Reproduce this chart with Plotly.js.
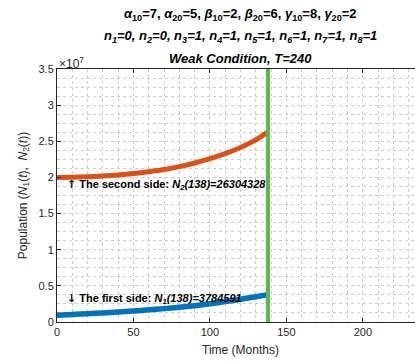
<!DOCTYPE html>
<html>
<head>
<meta charset="utf-8">
<script src="https://cdn.plot.ly/plotly-3.0.1.min.js"></script>
<style>
html,body{margin:0;padding:0;overflow:hidden;background:#fff;width:415px;height:362px;}
#chart{width:440px;height:362px;}
</style>
</head>
<body>
<div id="chart"></div>
<script>
// Data (Time in months, populations)
const months = [0, 10, 20, 30, 40, 50, 60, 70, 80, 90, 100, 110, 120, 130, 138];
const N1 = [0.95e6, 1.05e6, 1.15e6, 1.26e6, 1.38e6, 1.52e6, 1.68e6, 1.85e6, 2.04e6, 2.26e6, 2.52e6, 2.82e6, 3.15e6, 3.50e6, 3784591];
const N2 = [20.00e6, 20.04e6, 20.10e6, 20.20e6, 20.35e6, 20.55e6, 20.80e6, 21.10e6, 21.50e6, 22.00e6, 22.60e6, 23.30e6, 24.15e6, 25.20e6, 26304328];
const cutT = [138, 138];
const cutY = [0, 3.5e7];
const yTickVals = [0, 0.5e7, 1e7, 1.5e7, 2e7, 2.5e7, 3e7, 3.5e7];
const yTickText = ['0', '0.5', '1', '1.5', '2', '2.5', '3', '3.5'];
const xTickVals = [0, 50, 100, 150, 200];
const titleLines = [
  '<b><i>α</i><sub>10</sub>=7, <i>α</i><sub>20</sub>=5, <i>β</i><sub>10</sub>=2, <i>β</i><sub>20</sub>=6, <i>γ</i><sub>10</sub>=8, <i>γ</i><sub>20</sub>=2</b>',
  '<b><i>n<sub>1</sub>=0, n<sub>2</sub>=0, n<sub>3</sub>=1, n<sub>4</sub>=1, n<sub>5</sub>=1, n<sub>6</sub>=1, n<sub>7</sub>=1, n<sub>8</sub>=1</i></b>',
  '<b><i>Weak Condition, T=240</i></b>'
];
const noteSecond = '<b><span style="font-family:DejaVu Sans">↑</span> The second side: <i>N<sub>2</sub>(138)=26304328</i></b>';
const noteFirst = '<b><span style="font-family:DejaVu Sans">↓</span> The first side: <i>N<sub>1</sub>(138)=3784591</i></b>';

const FONT = 'Liberation Sans, Arial, Helvetica, sans-serif';
const AX = '#262626';

const traces = [
  {x: months, y: N2, mode: 'lines', line: {color: '#D95319', width: 5, shape: 'spline', smoothing: 0.8}, hoverinfo: 'none'},
  {x: months, y: N1, mode: 'lines', line: {color: '#0072BD', width: 5.5, shape: 'spline', smoothing: 0.8}, hoverinfo: 'none'},
  {x: cutT, y: cutY, mode: 'lines', line: {color: '#5CB946', width: 4}, hoverinfo: 'none'}
];

const gridCommon = {
  showgrid: true, gridcolor: '#cccccc', griddash: 'dot', gridwidth: 1
};

const layout = {
  width: 440, height: 362,
  margin: {l: 57, r: 16, t: 69, b: 40},
  paper_bgcolor: '#ffffff', plot_bgcolor: '#ffffff',
  showlegend: false,
  font: {family: FONT, size: 11, color: AX},
  xaxis: Object.assign({}, gridCommon, {
    range: [0, 240], tickvals: xTickVals, ticks: 'inside', ticklen: 4, tickcolor: AX,
    showline: true, linecolor: AX, linewidth: 1, mirror: 'ticks', zeroline: false,
    tickfont: {size: 11, color: AX},
    minor: {dtick: 10, showgrid: true, gridcolor: '#cccccc', griddash: 'dot', ticks: ''},
    title: {text: 'Time (Months)', font: {size: 12, color: AX}, standoff: 8}
  }),
  yaxis: Object.assign({}, gridCommon, {
    range: [0, 3.5e7], tickvals: yTickVals, ticktext: yTickText, ticks: 'inside', ticklen: 4, tickcolor: AX,
    showline: true, linecolor: AX, linewidth: 1, mirror: 'ticks', zeroline: false,
    tickfont: {size: 11, color: AX},
    minor: {dtick: 0.125e7, tick0: 0, showgrid: true, gridcolor: '#cccccc', griddash: 'dot', ticks: ''},
    title: {text: 'Population (<i>N</i><sub>1</sub>(<i>t</i>),  <i>N</i><sub>2</sub>(<i>t</i>))', font: {size: 12, color: AX}, standoff: 8}
  }),
  annotations: [
    {xref: 'paper', yref: 'paper', x: 0.5, y: 1, yanchor: 'bottom', yshift: 44, text: titleLines[0], showarrow: false, font: {size: 13, color: '#000'}},
    {xref: 'paper', yref: 'paper', x: 0.5, y: 1, yanchor: 'bottom', yshift: 22, text: titleLines[1], showarrow: false, font: {size: 13, color: '#000'}},
    {xref: 'paper', yref: 'paper', x: 0.5, y: 1, yanchor: 'bottom', yshift: 1, text: titleLines[2], showarrow: false, font: {size: 13, color: '#000'}},
    {xref: 'paper', yref: 'paper', x: 0, y: 1, xanchor: 'left', yanchor: 'bottom', xshift: 0, yshift: -4, text: '×10<sup>7</sup>', showarrow: false, font: {size: 12, color: AX}},
    {x: 5, y: 19.0e6, xanchor: 'left', yanchor: 'middle', text: noteSecond, showarrow: false, font: {size: 11, color: '#000'}},
    {x: 5, y: 3.2e6, xanchor: 'left', yanchor: 'middle', text: noteFirst, showarrow: false, font: {size: 11, color: '#000'}}
  ]
};

Plotly.newPlot('chart', traces, layout, {staticPlot: true, displayModeBar: false});
</script>
</body>
</html>
